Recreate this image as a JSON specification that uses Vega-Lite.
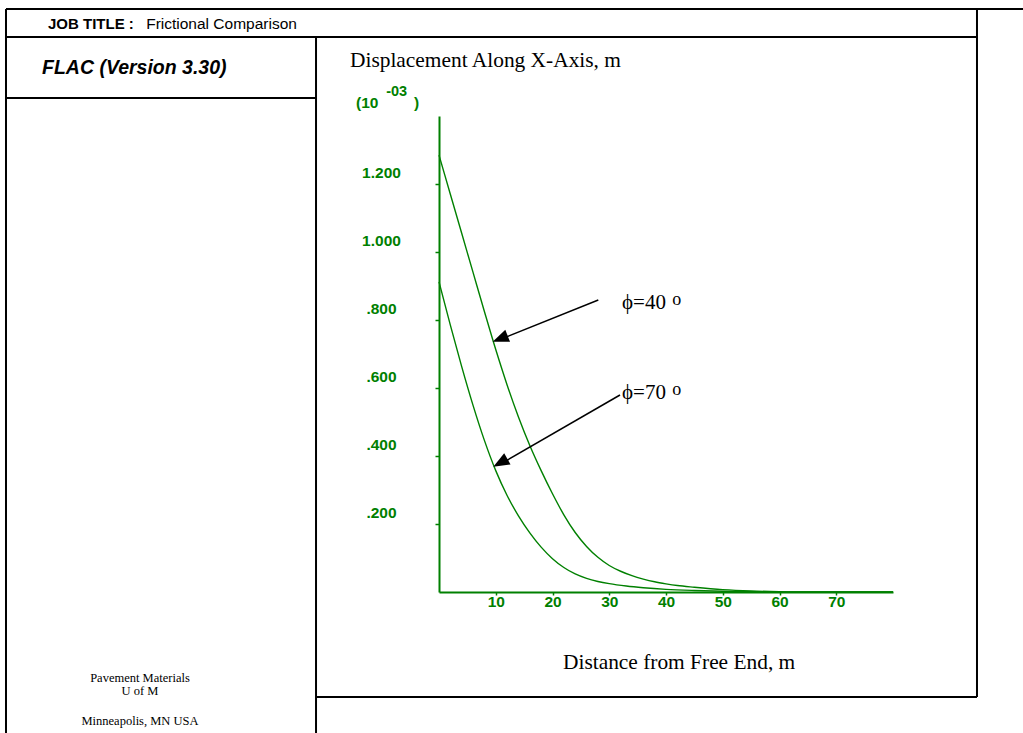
{
  "$schema": "https://vega.github.io/schema/vega-lite/v6.json",
  "width": 454,
  "height": 476,
  "autosize": {"type": "none"},
  "padding": {"left": 439, "top": 116, "right": 130, "bottom": 141},
  "background": "white",
  "config": {"view": {"stroke": null}},
  "datasets": {
    "curves": [
      {"series": "phi40", "x": 0, "y": 1.285},
      {"series": "phi40", "x": 2, "y": 1.17},
      {"series": "phi40", "x": 4, "y": 1.055},
      {"series": "phi40", "x": 6, "y": 0.94},
      {"series": "phi40", "x": 8, "y": 0.825},
      {"series": "phi40", "x": 10, "y": 0.713},
      {"series": "phi40", "x": 12, "y": 0.609},
      {"series": "phi40", "x": 14, "y": 0.515},
      {"series": "phi40", "x": 16, "y": 0.431},
      {"series": "phi40", "x": 18, "y": 0.357},
      {"series": "phi40", "x": 20, "y": 0.289},
      {"series": "phi40", "x": 22, "y": 0.227},
      {"series": "phi40", "x": 24, "y": 0.175},
      {"series": "phi40", "x": 26, "y": 0.134},
      {"series": "phi40", "x": 28, "y": 0.102},
      {"series": "phi40", "x": 30, "y": 0.078},
      {"series": "phi40", "x": 32, "y": 0.061},
      {"series": "phi40", "x": 34, "y": 0.048},
      {"series": "phi40", "x": 36, "y": 0.038},
      {"series": "phi40", "x": 38, "y": 0.03},
      {"series": "phi40", "x": 40, "y": 0.024},
      {"series": "phi40", "x": 42, "y": 0.019},
      {"series": "phi40", "x": 45, "y": 0.014},
      {"series": "phi40", "x": 50, "y": 0.007},
      {"series": "phi40", "x": 55, "y": 0.003},
      {"series": "phi40", "x": 60, "y": 0.001},
      {"series": "phi40", "x": 66, "y": 0},
      {"series": "phi40", "x": 80, "y": 0},
      {"series": "phi70", "x": 0, "y": 0.912},
      {"series": "phi70", "x": 2, "y": 0.785},
      {"series": "phi70", "x": 4, "y": 0.663},
      {"series": "phi70", "x": 6, "y": 0.549},
      {"series": "phi70", "x": 8, "y": 0.446},
      {"series": "phi70", "x": 10, "y": 0.357},
      {"series": "phi70", "x": 12, "y": 0.284},
      {"series": "phi70", "x": 14, "y": 0.224},
      {"series": "phi70", "x": 16, "y": 0.174},
      {"series": "phi70", "x": 18, "y": 0.132},
      {"series": "phi70", "x": 20, "y": 0.098},
      {"series": "phi70", "x": 22, "y": 0.072},
      {"series": "phi70", "x": 24, "y": 0.053},
      {"series": "phi70", "x": 26, "y": 0.04},
      {"series": "phi70", "x": 28, "y": 0.031},
      {"series": "phi70", "x": 30, "y": 0.0245},
      {"series": "phi70", "x": 33, "y": 0.0175},
      {"series": "phi70", "x": 36, "y": 0.0125},
      {"series": "phi70", "x": 40, "y": 0.0078},
      {"series": "phi70", "x": 45, "y": 0.0045},
      {"series": "phi70", "x": 50, "y": 0.0024},
      {"series": "phi70", "x": 55, "y": 0.0011},
      {"series": "phi70", "x": 60, "y": 0.0004},
      {"series": "phi70", "x": 66, "y": 0},
      {"series": "phi70", "x": 80, "y": 0}
    ],
    "frame": [
      {"x": -76.3, "x2": 103.5, "y": 1.7147, "y2": 1.7147},
      {"x": -76.3, "x2": 94.8, "y": 1.6324, "y2": 1.6324},
      {"x": -76.3, "x2": -21.67, "y": 1.4529, "y2": 1.4529},
      {"x": -76.3, "x2": -76.3, "y": 1.7147, "y2": -0.43},
      {"x": -21.67, "x2": -21.67, "y": 1.6324, "y2": -0.43},
      {"x": 94.8, "x2": 94.8, "y": 1.7147, "y2": -0.3088},
      {"x": -21.67, "x2": 94.8, "y": -0.3088, "y2": -0.3088}
    ],
    "arrows": [
      {"arrow": "phi40", "x": 28.07, "y": 0.8588, "x2": 10.8, "y2": 0.743},
      {"arrow": "phi70", "x": 31.89, "y": 0.5794, "x2": 11.0, "y2": 0.378}
    ],
    "heads": [
      {"arrow": "phi40", "x": 9.46, "y": 0.736},
      {"arrow": "phi70", "x": 9.57, "y": 0.3685}
    ],
    "labels": [
      {"group": "jobbold", "text": "JOB TITLE :", "x": -68.9, "y": 1.657},
      {"group": "job", "text": "Frictional Comparison", "x": -51.6, "y": 1.657},
      {"group": "flac", "text": "FLAC (Version 3.30)", "x": -69.96, "y": 1.5235},
      {"group": "title", "text": "Displacement Along X-Axis, m", "x": -15.68, "y": 1.5441},
      {"group": "title", "text": "Distance from Free End, m", "x": 21.85, "y": -0.2265},
      {"group": "scale", "text": "(10", "x": -14.63, "y": 1.4235},
      {"group": "scale", "text": ")", "x": -4.4, "y": 1.4235},
      {"group": "exp", "text": "-03", "x": -9.3, "y": 1.4588},
      {"group": "phi", "text": "ϕ=40", "x": 32.25, "y": 0.8324},
      {"group": "phi", "text": "ϕ=70", "x": 32.25, "y": 0.5676},
      {"group": "deg", "text": "o", "x": 41.1, "y": 0.8441},
      {"group": "deg", "text": "o", "x": 41.1, "y": 0.5794},
      {"group": "credit", "text": "Pavement Materials", "x": -52.69, "y": -0.2647},
      {"group": "credit", "text": "U of M", "x": -52.69, "y": -0.3029},
      {"group": "credit", "text": "Minneapolis, MN USA", "x": -52.69, "y": -0.3912}
    ]
  },
  "layer": [
    {
      "data": {"name": "curves"},
      "mark": {"type": "line", "interpolate": "monotone", "strokeWidth": 1.4, "color": "#008000"},
      "encoding": {
        "x": {
          "field": "x", "type": "quantitative",
          "scale": {"domain": [0, 80], "nice": false, "zero": false},
          "axis": {
            "values": [10, 20, 30, 40, 50, 60, 70], "format": "d", "grid": false,
            "title": null, "domainColor": "#008000", "domainWidth": 2,
            "tickColor": "#008000", "tickSize": 3, "tickWidth": 1.5,
            "labelColor": "#008000", "labelFont": "Liberation Sans", "labelFontWeight": "bold",
            "labelFontSize": 15.5, "labelPadding": -1
          }
        },
        "y": {
          "field": "y", "type": "quantitative",
          "scale": {"domain": [0, 1.4], "nice": false, "zero": false},
          "axis": {
            "values": [0.2, 0.4, 0.6, 0.8, 1.0, 1.2], "grid": false, "title": null,
            "labelExpr": "datum.value < 1 ? substring(format(datum.value, '.3f'), 1) : format(datum.value, '.3f')",
            "domainColor": "#008000", "domainWidth": 2,
            "tickColor": "#008000", "tickSize": 4, "tickWidth": 1.5,
            "labelColor": "#008000", "labelFont": "Liberation Sans", "labelFontWeight": "bold",
            "labelFontSize": 15.5, "labelAlign": "center", "labelPadding": 54, "labelOffset": -12
          }
        },
        "detail": {"field": "series", "type": "nominal"}
      }
    },
    {
      "data": {"name": "frame"},
      "mark": {"type": "rule", "color": "black", "strokeWidth": 2},
      "encoding": {
        "x": {"field": "x", "type": "quantitative"},
        "x2": {"field": "x2"},
        "y": {"field": "y", "type": "quantitative"},
        "y2": {"field": "y2"}
      }
    },
    {
      "data": {"name": "arrows"},
      "mark": {"type": "rule", "color": "black", "strokeWidth": 1.5},
      "encoding": {
        "x": {"field": "x", "type": "quantitative"},
        "x2": {"field": "x2"},
        "y": {"field": "y", "type": "quantitative"},
        "y2": {"field": "y2"}
      }
    },
    {
      "data": {"name": "heads"},
      "transform": [{"filter": "datum.arrow === 'phi40'"}],
      "mark": {"type": "point", "shape": "M0,0L-2,-0.8L-2,0.8Z", "filled": true, "color": "black", "opacity": 1, "size": 260, "angle": 158.4, "strokeWidth": 0},
      "encoding": {
        "x": {"field": "x", "type": "quantitative"},
        "y": {"field": "y", "type": "quantitative"}
      }
    },
    {
      "data": {"name": "heads"},
      "transform": [{"filter": "datum.arrow === 'phi70'"}],
      "mark": {"type": "point", "shape": "M0,0L-2,-0.8L-2,0.8Z", "filled": true, "color": "black", "opacity": 1, "size": 260, "angle": 150.5, "strokeWidth": 0},
      "encoding": {
        "x": {"field": "x", "type": "quantitative"},
        "y": {"field": "y", "type": "quantitative"}
      }
    },
    {
      "data": {"name": "labels"},
      "transform": [{"filter": "datum.group === 'jobbold'"}],
      "mark": {"type": "text", "align": "left", "baseline": "alphabetic", "font": "Liberation Sans", "fontSize": 15, "fontWeight": "bold", "color": "black"},
      "encoding": {
        "x": {"field": "x", "type": "quantitative"},
        "y": {"field": "y", "type": "quantitative"},
        "text": {"field": "text"}
      }
    },
    {
      "data": {"name": "labels"},
      "transform": [{"filter": "datum.group === 'job'"}],
      "mark": {"type": "text", "align": "left", "baseline": "alphabetic", "font": "Liberation Sans", "fontSize": 15.5, "color": "black"},
      "encoding": {
        "x": {"field": "x", "type": "quantitative"},
        "y": {"field": "y", "type": "quantitative"},
        "text": {"field": "text"}
      }
    },
    {
      "data": {"name": "labels"},
      "transform": [{"filter": "datum.group === 'flac'"}],
      "mark": {"type": "text", "align": "left", "baseline": "alphabetic", "font": "Liberation Sans", "fontSize": 19.5, "fontWeight": "bold", "fontStyle": "italic", "color": "black"},
      "encoding": {
        "x": {"field": "x", "type": "quantitative"},
        "y": {"field": "y", "type": "quantitative"},
        "text": {"field": "text"}
      }
    },
    {
      "data": {"name": "labels"},
      "transform": [{"filter": "datum.group === 'title'"}],
      "mark": {"type": "text", "align": "left", "baseline": "alphabetic", "font": "Liberation Serif", "fontSize": 21.4, "color": "black"},
      "encoding": {
        "x": {"field": "x", "type": "quantitative"},
        "y": {"field": "y", "type": "quantitative"},
        "text": {"field": "text"}
      }
    },
    {
      "data": {"name": "labels"},
      "transform": [{"filter": "datum.group === 'scale'"}],
      "mark": {"type": "text", "align": "left", "baseline": "alphabetic", "font": "Liberation Sans", "fontSize": 15.5, "fontWeight": "bold", "color": "#008000"},
      "encoding": {
        "x": {"field": "x", "type": "quantitative"},
        "y": {"field": "y", "type": "quantitative"},
        "text": {"field": "text"}
      }
    },
    {
      "data": {"name": "labels"},
      "transform": [{"filter": "datum.group === 'exp'"}],
      "mark": {"type": "text", "align": "left", "baseline": "alphabetic", "font": "Liberation Sans", "fontSize": 14.5, "fontWeight": "bold", "color": "#008000"},
      "encoding": {
        "x": {"field": "x", "type": "quantitative"},
        "y": {"field": "y", "type": "quantitative"},
        "text": {"field": "text"}
      }
    },
    {
      "data": {"name": "labels"},
      "transform": [{"filter": "datum.group === 'phi'"}],
      "mark": {"type": "text", "align": "left", "baseline": "alphabetic", "font": "Liberation Serif", "fontSize": 21, "color": "black"},
      "encoding": {
        "x": {"field": "x", "type": "quantitative"},
        "y": {"field": "y", "type": "quantitative"},
        "text": {"field": "text"}
      }
    },
    {
      "data": {"name": "labels"},
      "transform": [{"filter": "datum.group === 'deg'"}],
      "mark": {"type": "text", "align": "left", "baseline": "alphabetic", "font": "Liberation Serif", "fontSize": 18, "color": "black"},
      "encoding": {
        "x": {"field": "x", "type": "quantitative"},
        "y": {"field": "y", "type": "quantitative"},
        "text": {"field": "text"}
      }
    },
    {
      "data": {"name": "labels"},
      "transform": [{"filter": "datum.group === 'credit'"}],
      "mark": {"type": "text", "align": "center", "baseline": "alphabetic", "font": "Liberation Serif", "fontSize": 12.5, "color": "black"},
      "encoding": {
        "x": {"field": "x", "type": "quantitative"},
        "y": {"field": "y", "type": "quantitative"},
        "text": {"field": "text"}
      }
    }
  ]
}
